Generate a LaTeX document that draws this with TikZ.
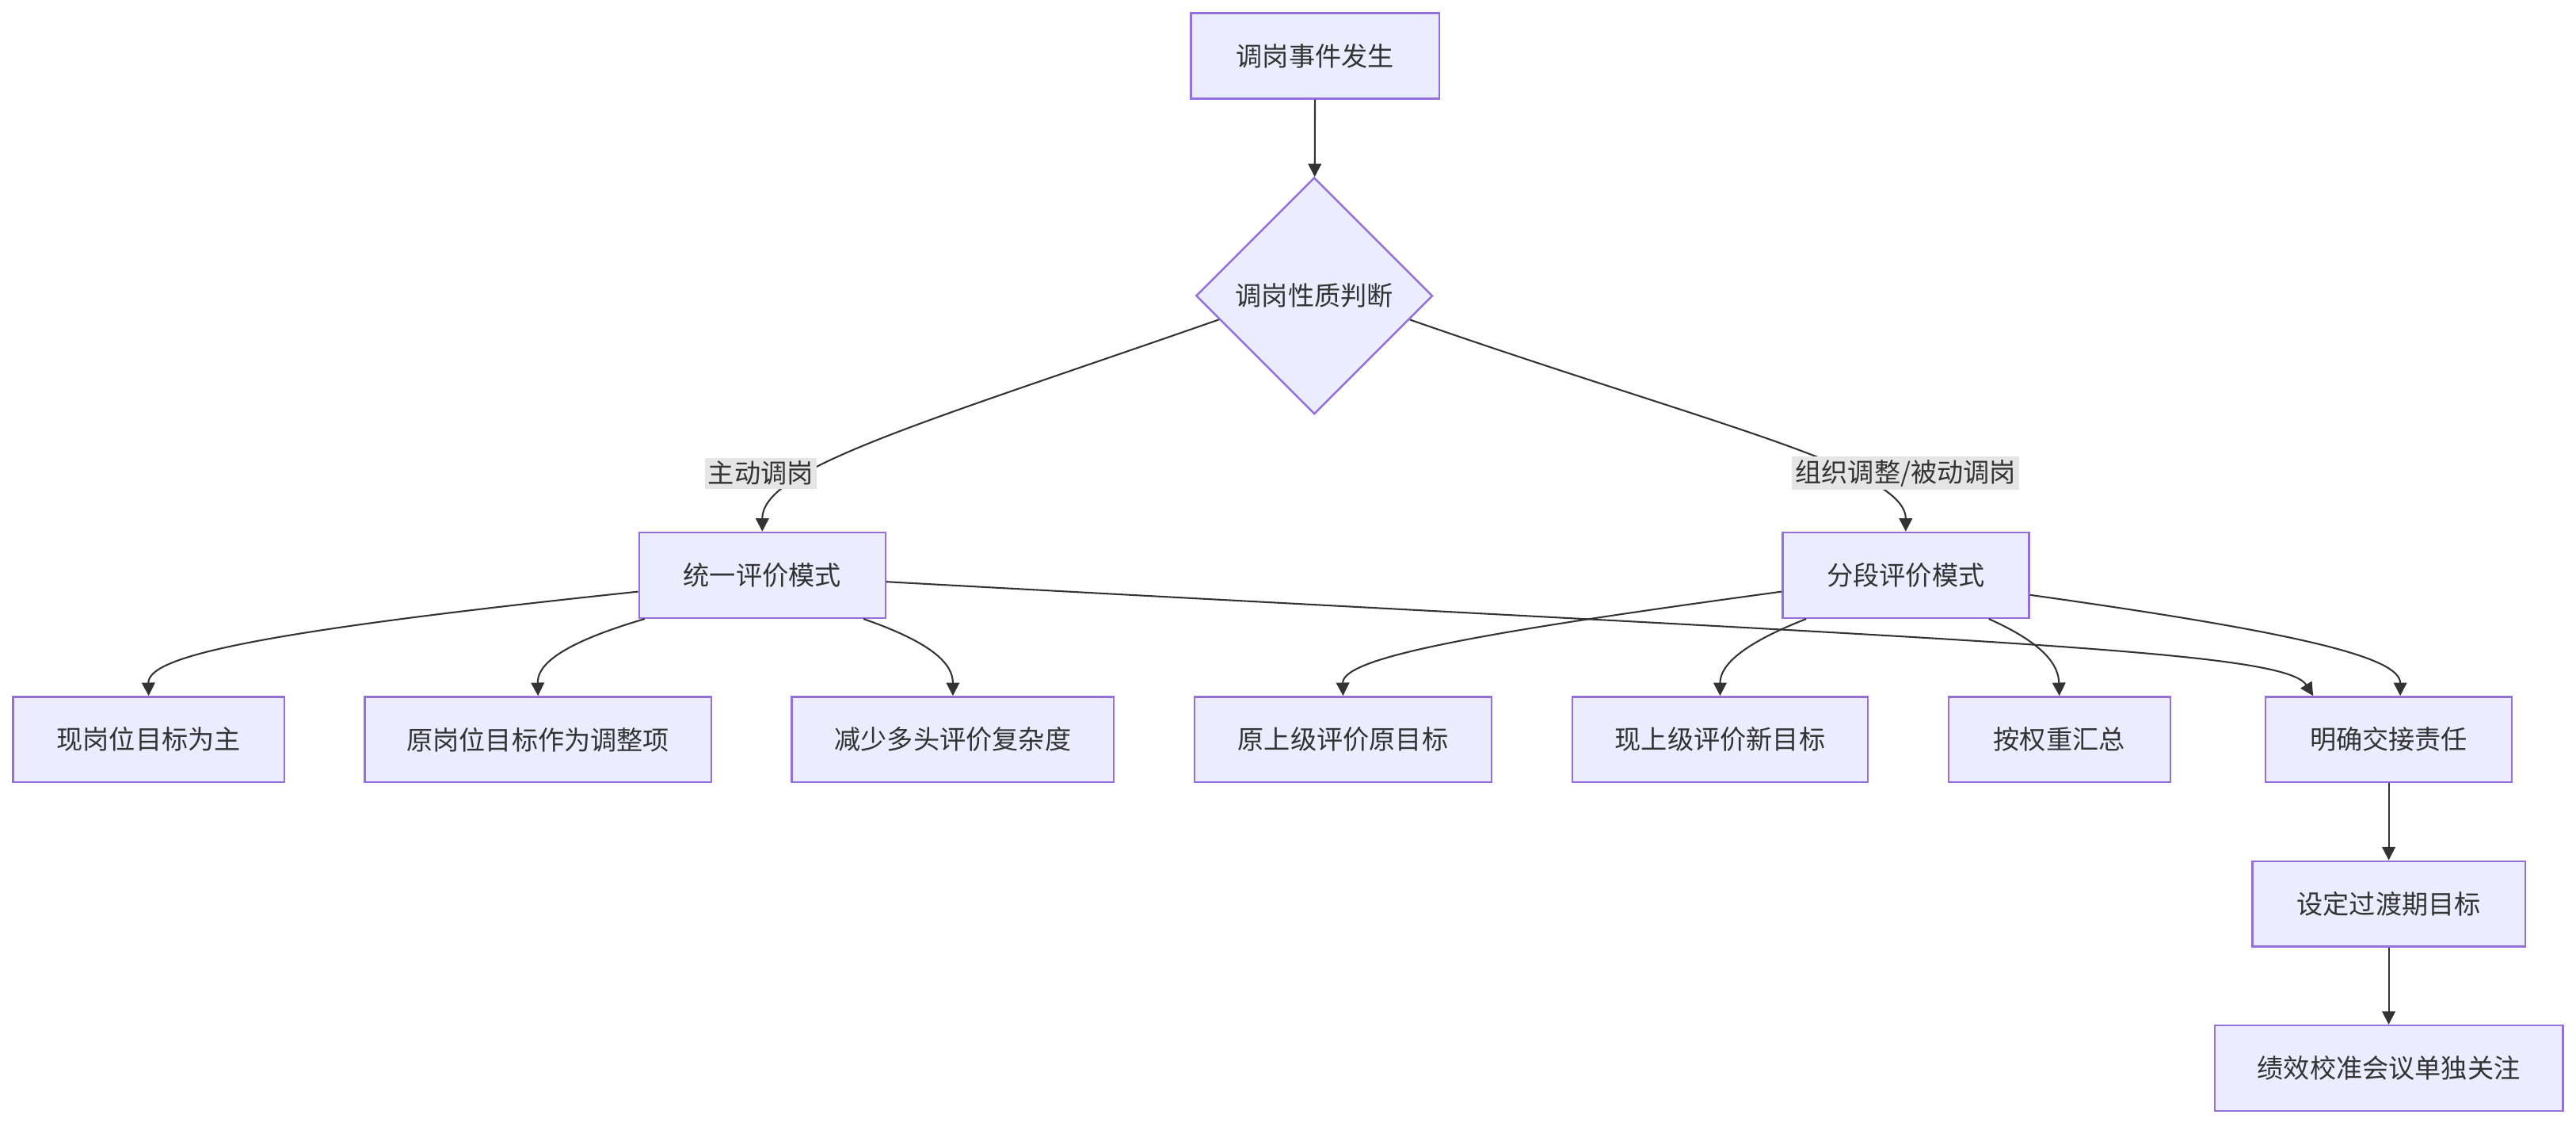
\documentclass[tikz,border=0pt]{standalone}
\usepackage{fontspec}
\setmainfont{Noto Sans CJK SC}
\usetikzlibrary{shapes.geometric,arrows.meta,calc}
\definecolor{nf}{HTML}{ECECFF}
\definecolor{ns}{HTML}{9370DB}
\definecolor{tx}{HTML}{333333}
\begin{document}
\begin{tikzpicture}[x=0.5pt,y=-0.5pt,
 box/.style={draw=ns,fill=nf,line width=0.6pt,minimum height=26pt,inner sep=0pt,text=tx,font=\fontsize{8}{10}\selectfont},
 lab/.style={fill=black!10,inner sep=1pt,text=tx,font=\fontsize{8}{10}\selectfont},
 e/.style={draw=tx,line width=0.5pt,-{Triangle[length=4pt,width=4pt]}}]
\useasboundingbox (0,0) rectangle (1568,685);
\node[box,minimum width=75.5pt] (a) at (800.5,34) {调岗事件发生};
\node[box,diamond,minimum width=72pt,minimum height=72pt,aspect=1] (d) at (800,180) {调岗性质判断};
\node[box,minimum width=75pt] (u) at (464,350) {统一评价模式};
\node[box,minimum width=75pt] (s) at (1160,350) {分段评价模式};
\node[box,minimum width=82.5pt] (b1) at (90.5,450) {现岗位目标为主};
\node[box,minimum width=105.5pt] (b2) at (327.5,450) {原岗位目标作为调整项};
\node[box,minimum width=98pt] (b3) at (580,450) {减少多头评价复杂度};
\node[box,minimum width=90.5pt] (b4) at (817.5,450) {原上级评价原目标};
\node[box,minimum width=90pt] (b5) at (1047,450) {现上级评价新目标};
\node[box,minimum width=67.5pt] (b6) at (1253.5,450) {按权重汇总};
\node[box,minimum width=75pt] (b7) at (1454,450) {明确交接责任};
\node[box,minimum width=83pt] (c1) at (1454,550) {设定过渡期目标};
\node[box,minimum width=106pt] (c2) at (1454,650) {绩效校准会议单独关注};
\draw[e] (a) -- (d);
\draw[e] (d.194) .. controls (560,258) and (464,285) .. (u.north);
\draw[e] (d.346) .. controls (1040,258) and (1160,285) .. (s.north);
\node[lab] (l1) at (463,288) {主动调岗};
\node[lab] (l2) at (1160,288) {组织调整/被动调岗};
\draw[e] ($(u.west)+(0,10)$) .. controls (150,385) and (90,400) .. (b1.north);
\draw[e] ($(u.south west)+(4,0)$) .. controls (340,392) and (327,405) .. (b2.north);
\draw[e] ($(u.south east)+(-14,0)$) .. controls (570,392) and (580,405) .. (b3.north);
\draw[e] ($(u.east)+(0,4)$) .. controls (1200,390) and (1390,395) .. ($(b7.north)+(-46,0)$);
\draw[e] ($(s.west)+(0,10)$) .. controls (900,385) and (817,400) .. (b4.north);
\draw[e] ($(s.south west)+(15,0)$) .. controls (1060,392) and (1047,405) .. (b5.north);
\draw[e] ($(s.south east)+(-25,0)$) .. controls (1245,392) and (1253,405) .. (b6.north);
\draw[e] ($(s.east)+(0,12)$) .. controls (1400,385) and (1461,400) .. ($(b7.north)+(7,0)$);
\draw[e] (b7) -- (c1);
\draw[e] (c1) -- (c2);
\end{tikzpicture}
\end{document}
